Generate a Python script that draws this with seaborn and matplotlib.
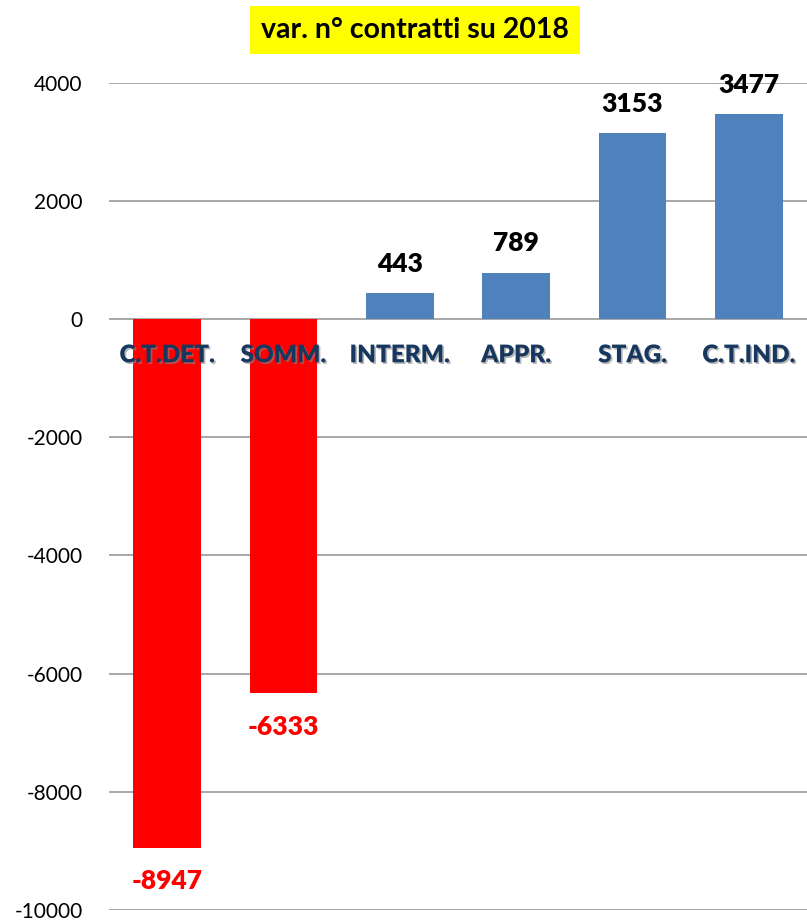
import numpy as np
import pandas as pd
import seaborn as sns
import matplotlib.pyplot as plt
import matplotlib.patheffects as pe

# Data
categories = ["C.T.DET.", "SOMM.", "INTERM.", "APPR.", "STAG.", "C.T.IND."]
variation = [-8947, -6333, 443, 789, 3153, 3477]
title_text = "var. n° contratti su 2018"

blue = "#4F81BD"
red = "#FF0000"
navy = "#17375E"

df = pd.DataFrame({"categoria": categories, "variazione": variation})
bar_colors = {c: (red if v < 0 else blue) for c, v in zip(categories, variation)}

sns.set_style("white")
plt.rcParams['font.family'] = ['Lato', 'DejaVu Sans']
plt.rcParams['axes.unicode_minus'] = False

fig = plt.figure(figsize=(8.07, 9.21), dpi=100)
ax = fig.add_axes([0.135, 0.012, 0.865, 0.898])

sns.barplot(data=df, x="categoria", y="variazione", hue="categoria",
            palette=bar_colors, width=0.58, legend=False, ax=ax, saturation=1,
            linewidth=0, edgecolor="none")

ax.set_ylim(-10000, 4000)
ax.set_xlim(-0.5, len(categories) - 0.5)
ax.set_yticks(np.arange(-10000, 4001, 2000))
ax.yaxis.grid(True, color="#A0A0A0", linewidth=1.3)
ax.set_axisbelow(True)
ax.tick_params(axis="y", length=0, pad=19, labelsize=15, labelcolor="black")
ax.set_xticks([])
ax.set_xlabel("")
ax.set_ylabel("")
for s in ax.spines.values():
    s.set_visible(False)

# category labels just under zero line
shadow = [pe.withSimplePatchShadow(offset=(1.2, -1.2), shadow_rgbFace="#888888", alpha=0.6)]
for i, c in enumerate(categories):
    ax.annotate(c, (i, 0), xytext=(0, -26), textcoords="offset points",
                ha="center", va="center", fontsize=17.5, fontweight="heavy",
                color=navy, path_effects=shadow, zorder=5)

# value labels
for i, v in enumerate(variation):
    if v >= 0:
        ax.annotate(str(v), (i, v), xytext=(0, 21), textcoords="offset points",
                    ha="center", va="center", fontsize=19, fontweight="heavy",
                    color="black")
    else:
        ax.annotate(str(v), (i, v), xytext=(0, -24), textcoords="offset points",
                    ha="center", va="center", fontsize=19, fontweight="heavy",
                    color=red)

fig.text(415 / 807, 1 - 30 / 921, title_text, ha="center", va="center",
         fontsize=20.5, fontweight="bold", color="black",
         bbox=dict(facecolor="#FFFF00", edgecolor="none", pad=8))

fig.savefig("out.png", dpi=100)
